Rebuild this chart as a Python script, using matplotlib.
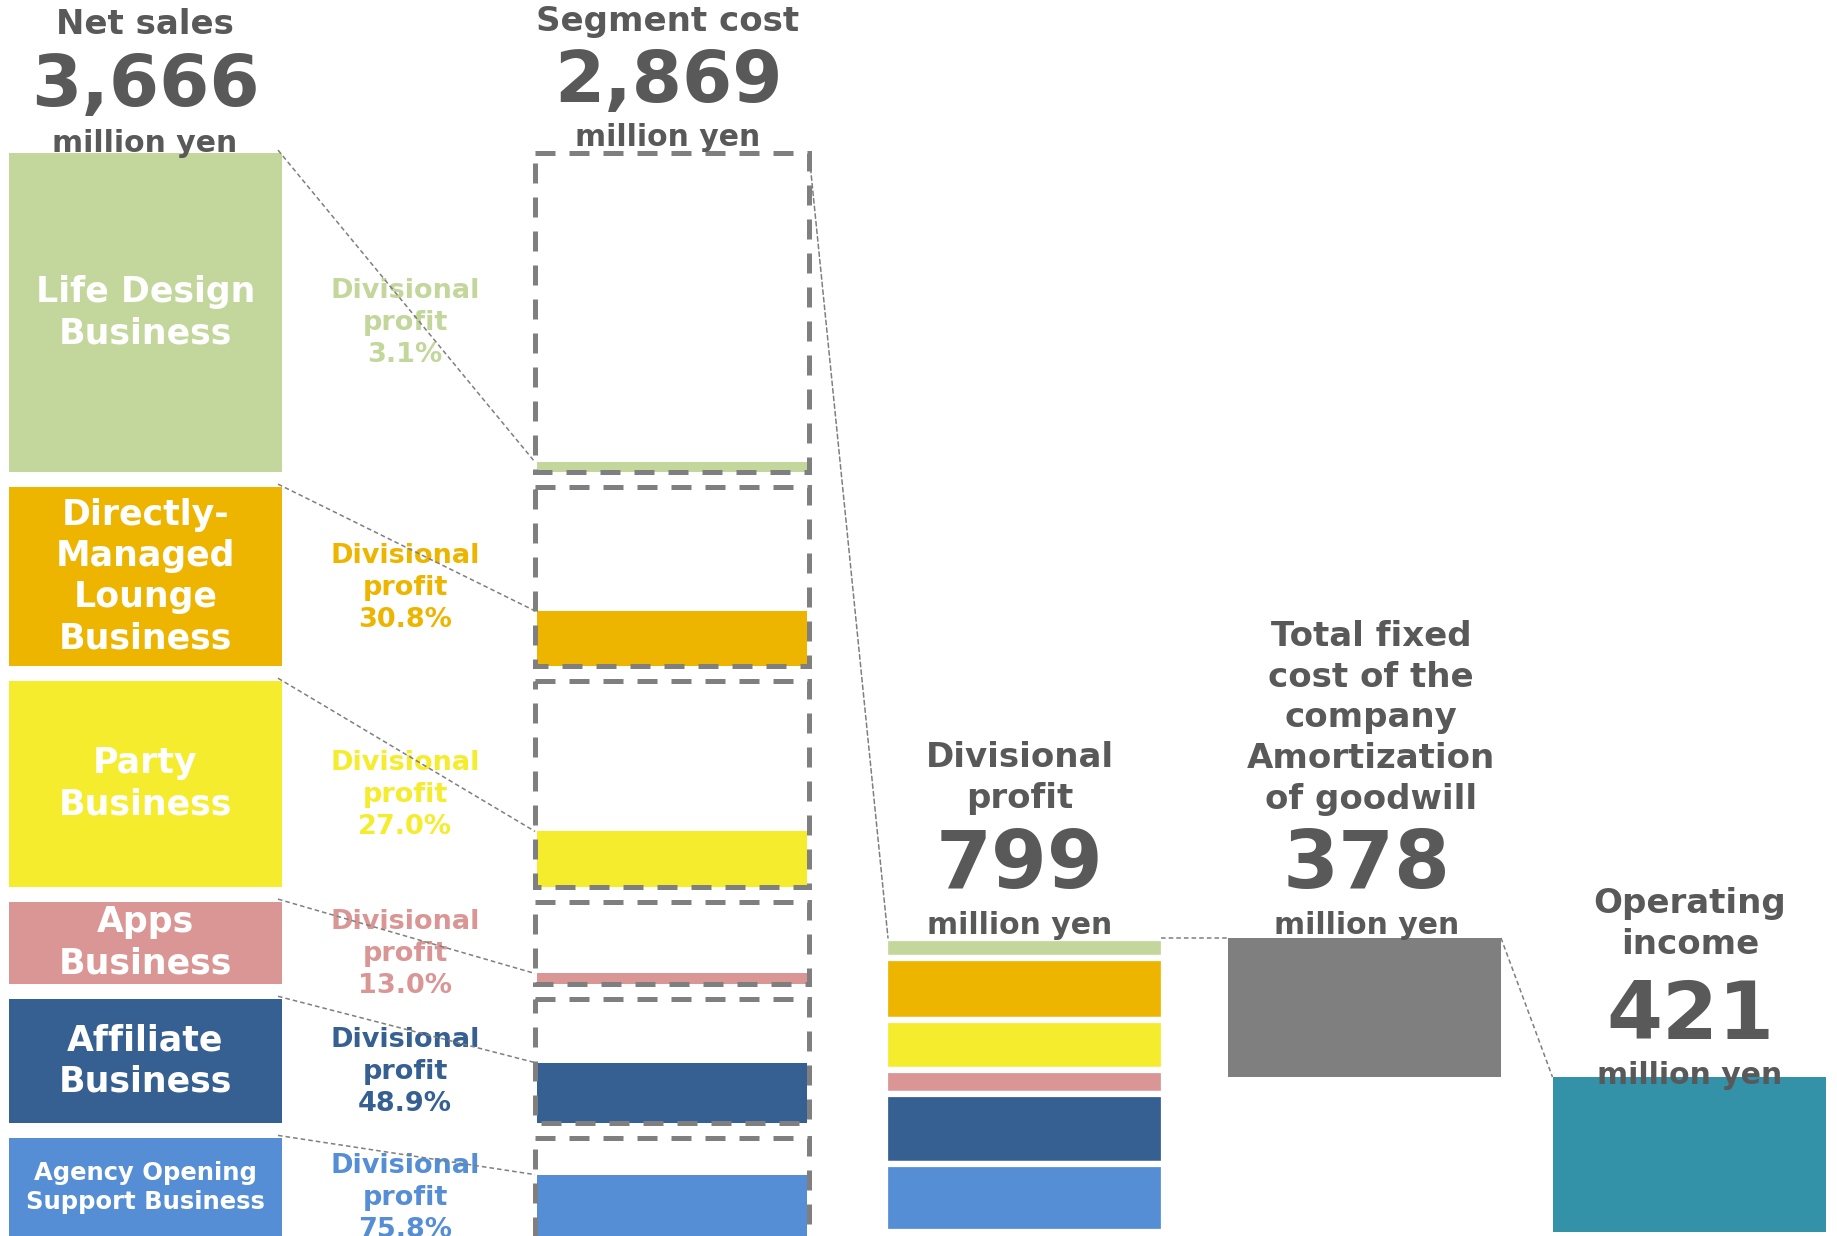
import numpy as np
import matplotlib.pyplot as plt
from matplotlib.patches import ConnectionPatch

plt.rcParams['font.family'] = ['DejaVu Sans']

W, H = 1837, 1236

# segment breakdown (million yen / %)
segments = ['Life Design\nBusiness', 'Directly-\nManaged\nLounge\nBusiness', 'Party\nBusiness',
            'Apps\nBusiness', 'Affiliate\nBusiness', 'Agency Opening\nSupport Business']
segment_sales = [1103, 619, 712, 284, 429, 519]
profit_margin = [3.1, 30.8, 27.0, 13.0, 48.9, 75.8]
segment_profit = [55, 169, 136, 65, 190, 184]
colors = ['#C3D69B', '#EDB500', '#F5EC2E', '#D99694', '#366092', '#558ED5']

# company totals (million yen)
net_sales = 3666
segment_cost = 2869
divisional_profit = 799
fixed_cost = 378
operating_income = 421

TXT = '#595959'
GRID = '#7F7F7F'

fig = plt.figure(figsize=(W / 100, H / 100), dpi=100)


def ftext(x, y, s, size, **kw):
    kw.setdefault('color', TXT)
    kw.setdefault('va', 'center')
    fig.text(x / W, 1 - y / H, s, fontsize=size, ha='center', fontweight='bold',
             multialignment='center', **kw)


# ---- left half: net sales blocks and segment cost boxes ----
ax_l = fig.add_axes([0, 0, 1, 1])
px_l = 0.2892          # pixels per million yen
top_l = 153
ax_l.set_xlim(0, W)
ax_l.set_ylim((H - top_l) / px_l, -top_l / px_l)
ax_l.axis('off')

gap = 52
sales = np.array(segment_sales)
tops = np.concatenate([[0], np.cumsum(sales[:-1] + gap)])
fills = sales * np.array(profit_margin) / 100
y_bottom = ax_l.get_ylim()[0]

sx, sw = 145.5, 273      # net sales column
cx, cw = 672, 274        # segment cost column

ax_l.bar(sx, sales, bottom=tops, width=sw, color=colors)
ax_l.bar(cx, fills, bottom=tops + sales - fills, width=cw - 4, color=colors, zorder=2)
ax_l.bar(cx, sales, bottom=tops, width=cw, fill=False, edgecolor=GRID, linewidth=3.6,
         linestyle=(0, (4, 2.8)), zorder=3)

for i, name in enumerate(segments):
    vis_bottom = min(tops[i] + sales[i], y_bottom)
    yc = (tops[i] + vis_bottom) / 2
    small = i == len(segments) - 1
    ax_l.text(sx, yc, name, color='white', fontsize=17.5 if small else 25, fontweight='bold',
              ha='center', va='center', multialignment='center',
              linespacing=1.25 if small else 1.27)
    ax_l.text(405, yc + 38, f'Divisional\nprofit\n{profit_margin[i]:.1f}%', color=colors[i],
              fontsize=19.5, fontweight='bold', ha='center', va='center',
              multialignment='center', linespacing=1.3, zorder=1)
    # dotted link from sales block to its profit slice
    ax_l.plot([sx + sw / 2 - 4, cx - cw / 2], [tops[i] - 10, tops[i] + sales[i] - fills[i]],
              color=GRID, lw=1.1, linestyle=(0, (3, 2)), zorder=1)

# ---- right half: divisional profit, fixed cost, operating income ----
ax_r = fig.add_axes([0, 0, 1, 1])
px_r = 0.368
base_r = 1232
ax_r.set_xlim(0, W)
ax_r.set_ylim(-(H - base_r) / px_r, base_r / px_r)
ax_r.axis('off')

profit = np.array(segment_profit)
bottoms = np.array([profit[i + 1:].sum() for i in range(len(profit))])
px_, fx, ox, bw = 1024.5, 1364.5, 1689, 273

# white edges open up the gaps between the stacked slices
ax_r.bar(px_, profit, bottom=bottoms, width=bw + 6, color=colors, edgecolor='white', linewidth=4.5)
ax_r.bar(fx, fixed_cost, bottom=operating_income, width=bw, color='#7F7F7F')
ax_r.bar(ox, operating_income, bottom=0, width=bw, color='#3391A8')

ax_r.plot([px_ + bw / 2, fx - bw / 2], [divisional_profit, divisional_profit],
          color=GRID, lw=1.1, linestyle=(0, (3, 2)))
ax_r.plot([fx + bw / 2, ox - bw / 2], [divisional_profit, operating_income],
          color=GRID, lw=1.1, linestyle=(0, (3, 2)))

link = ConnectionPatch(xyA=(cx + cw / 2, 0), coordsA=ax_l.transData,
                       xyB=(px_ - bw / 2, divisional_profit), coordsB=ax_r.transData,
                       color=GRID, lw=1.1, linestyle=(0, (3, 2)))
fig.add_artist(link)

# ---- headings ----
ftext(145, 25, 'Net sales', 24.5)
ftext(145, 87, f'{net_sales:,}', 52)
ftext(145, 143, 'million yen', 21.5)

ftext(668, 21, 'Segment cost', 24.5)
ftext(668, 82, f'{segment_cost:,}', 52)
ftext(668, 138, 'million yen', 21.5)

ftext(1020, 778, 'Divisional\nprofit', 24.5, linespacing=1.3)
ftext(1020, 866, f'{divisional_profit:,}', 58)
ftext(1020, 925, 'million yen', 21.5)

ftext(1371, 718, 'Total fixed\ncost of the\ncompany\nAmortization\nof goodwill', 24.5, linespacing=1.3)
ftext(1367, 866, f'{fixed_cost:,}', 58)
ftext(1367, 925, 'million yen', 21.5)

ftext(1690, 924, 'Operating\nincome', 24.5, linespacing=1.3)
ftext(1690, 1017, f'{operating_income:,}', 58)
ftext(1690, 1075, 'million yen', 21.5)

fig.savefig('out.png', dpi=100)
